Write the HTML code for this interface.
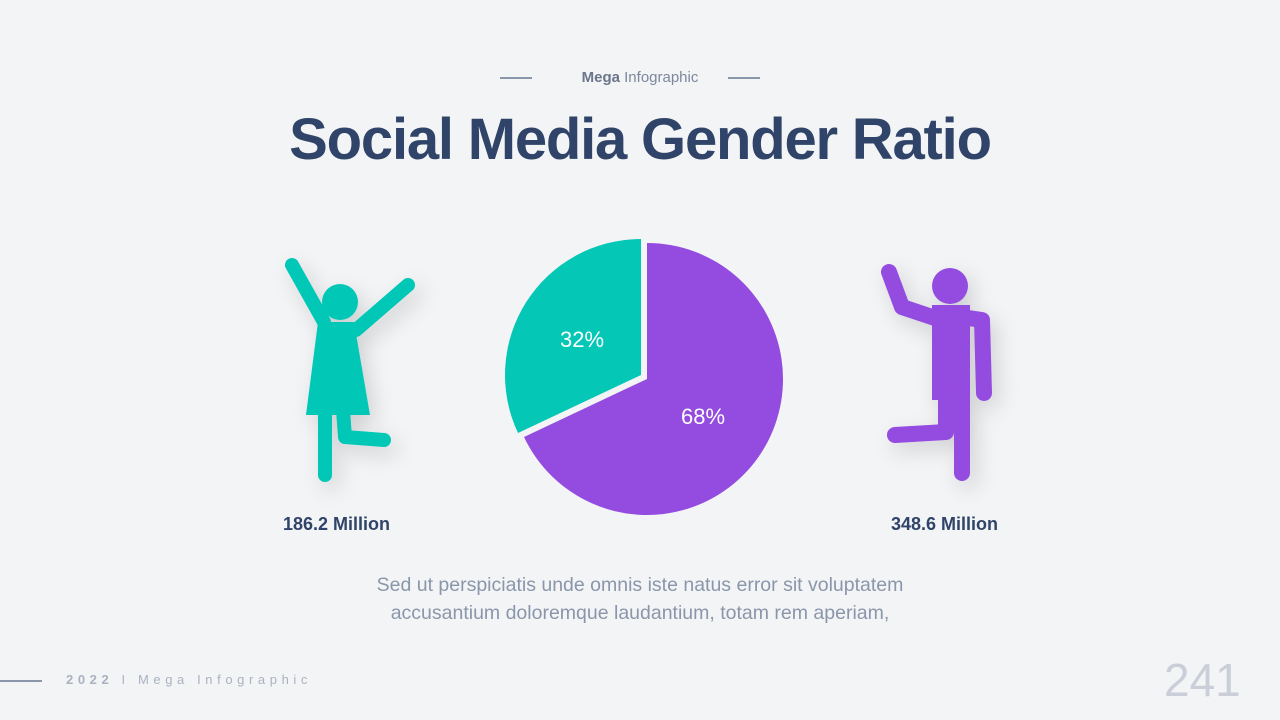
<!DOCTYPE html>
<html><head><style>
body{margin:0;width:1280px;height:720px;background:#f3f4f6;font-family:"Liberation Sans",sans-serif;position:relative;overflow:hidden}
.a{position:absolute}
</style></head><body>
<div class="a" style="left:500px;top:77px;width:32px;height:2px;background:#8a96aa"></div>
<div class="a" style="left:728px;top:77px;width:32px;height:2px;background:#8a96aa"></div>
<div class="a" style="left:0;width:1280px;top:69px;text-align:center;font-size:15px;color:#7d889c"><b style="color:#6b768b">Mega</b> Infographic</div>
<div class="a" style="left:0;width:1280px;top:106px;text-align:center;font-size:58px;font-weight:bold;color:#2f4468;letter-spacing:-1.2px">Social Media Gender Ratio</div>
<svg class="a" style="left:0;top:0" width="1280" height="720">
<defs><filter id="s" x="-50%" y="-50%" width="200%" height="200%"><feDropShadow dx="6" dy="8" stdDeviation="10" flood-color="#000" flood-opacity="0.15"/></filter></defs>
<g filter="url(#s)" stroke="#05c7b6" stroke-width="14" stroke-linecap="round" stroke-linejoin="round" fill="none">
<circle cx="340" cy="302" r="18" fill="#05c7b6" stroke="none"/>
<path d="M292 265 L324 322"/><path d="M408 285 L356 330"/>
<polygon points="318,322 354,322 370,415 306,415" fill="#05c7b6" stroke="none"/>
<path d="M325 410 L325 475"/><path d="M343 410 L345 437 L384 440"/>
</g>
<g filter="url(#s)" stroke="#944be0" stroke-width="16" stroke-linecap="round" stroke-linejoin="round" fill="none">
<circle cx="950" cy="286" r="18" fill="#944be0" stroke="none"/>
<rect x="932" y="305" width="38" height="95" fill="#944be0" stroke="none"/>
<path d="M889 272 L902 307 L935 318"/><path d="M968 318 L982 320 L984 393"/>
<path d="M962 395 L962 473"/><path d="M946 395 L946 432 L895 435"/>
</g>
<path d="M647 379 L647 243 A136 136 0 1 1 524 437 Z" fill="#944be0"/>
<path d="M641 375 L518 433 A136 136 0 0 1 641 239 Z" fill="#05c7b6"/>
<text x="582" y="347" fill="#fff" font-size="22" text-anchor="middle" font-family="Liberation Sans">32%</text>
<text x="703" y="424" fill="#fff" font-size="22" text-anchor="middle" font-family="Liberation Sans">68%</text>
</svg>
<div class="a" style="left:283px;top:514px;font-size:18px;font-weight:bold;color:#2f4468">186.2 Million</div>
<div class="a" style="left:891px;top:514px;font-size:18px;font-weight:bold;color:#2f4468">348.6 Million</div>
<div class="a" style="left:0;width:1280px;top:571px;text-align:center;font-size:19.5px;line-height:28px;color:#8a96aa">Sed ut perspiciatis unde omnis iste natus error sit voluptatem<br>accusantium doloremque laudantium, totam rem aperiam,</div>
<div class="a" style="left:0;top:680px;width:42px;height:2px;background:#8a96aa"></div>
<div class="a" style="left:66px;top:672px;font-size:13px;letter-spacing:4.6px;color:#aab2c0"><b>2022</b> I Mega Infographic</div>
<div class="a" style="left:1164px;top:653px;font-size:46px;color:#c9ced8">241</div>
</body></html>
